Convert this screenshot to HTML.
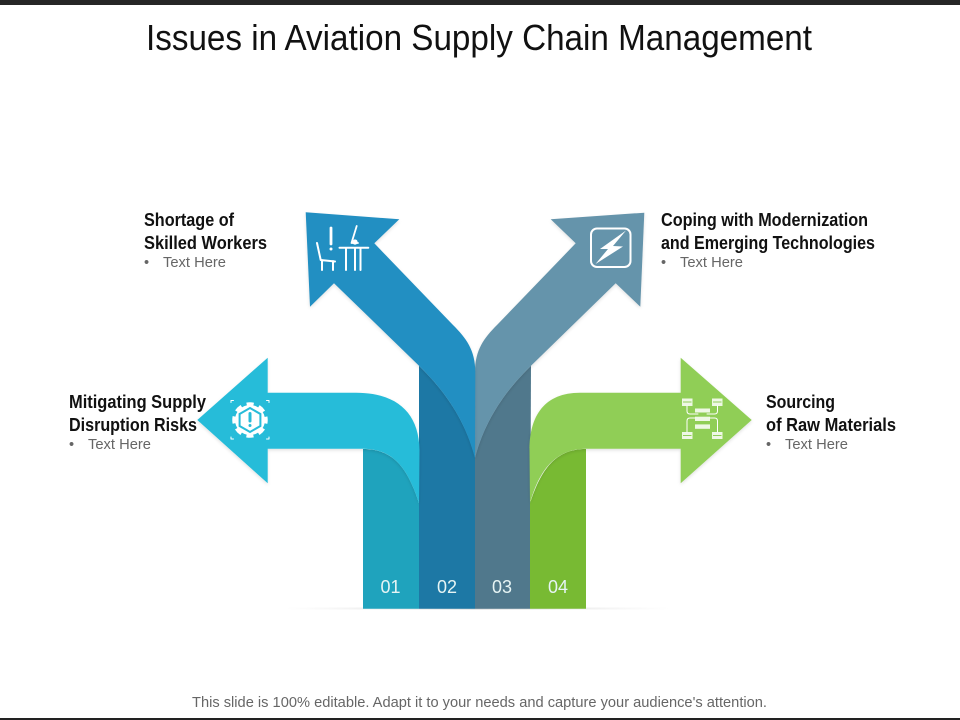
<!DOCTYPE html>
<html lang="en">
<head>
<meta charset="utf-8">
<title>Issues in Aviation Supply Chain Management</title>
<style>
html,body{margin:0;padding:0;background:#fff;}
svg{display:block;}
text{font-family:"Liberation Sans Narrow","Liberation Sans",sans-serif;}
.h{font-size:18px;font-weight:bold;fill:#111;}
.b{font-family:"Liberation Sans",sans-serif;font-size:14.5px;fill:#666;}
.n{font-family:"Liberation Sans",sans-serif;font-size:18px;fill:#e6f4f4;text-anchor:middle;}
.w{fill:none;stroke:#fff;stroke-linecap:round;stroke-linejoin:round;}
</style>
</head>
<body>
<svg width="960" height="720" viewBox="0 0 960 720" xmlns="http://www.w3.org/2000/svg">
<defs>
<linearGradient id="baseGrad" x1="0" x2="1" y1="0" y2="0">
<stop offset="0" stop-color="#e4e4e4" stop-opacity="0"/>
<stop offset="0.5" stop-color="#d0d0d0"/>
<stop offset="1" stop-color="#e4e4e4" stop-opacity="0"/>
</linearGradient>
<filter id="soft" x="-10%" y="-10%" width="120%" height="120%">
<feDropShadow dx="0" dy="1.5" stdDeviation="1.5" flood-color="#000" flood-opacity="0.12"/>
</filter>
</defs>
<rect x="0" y="0" width="960" height="720" fill="#fff"/>
<rect x="0" y="0" width="960" height="5" fill="#262626"/>
<rect x="0" y="718" width="960" height="2" fill="#222"/>

<text x="146" y="50" font-size="36" fill="#111" textLength="666" lengthAdjust="spacingAndGlyphs">Issues in Aviation Supply Chain Management</text>

<rect x="285" y="607.5" width="385" height="2" fill="url(#baseGrad)"/>

<path d="M363 449C395 449 408 470 419 503L419 608.7L363 608.7Z" fill="#1fa3bd"/>
<path d="M419 365.7C445 391 465 420 475 457L475 608.7L419 608.7Z" fill="#1d78a5"/>
<path d="M531 365.7C505 391 485 420 475 457L475 608.7L530 608.7Z" fill="#50788c"/>
<path d="M586 449C555 449 541 470 530 503L530 608.7L586 608.7Z" fill="#78ba33"/>

<path d="M197.3 420L267.7 357.7L267.7 392.7L356 392.7C396 392.7 419 412 419.5 450L419 503C408 470 395 449 363 448.7L267.7 448.7L267.7 483.3Z" fill="#27bcd9" filter="url(#soft)"/>
<path d="M644.3 212.7L550.7 219.3L575.7 243.3L497 325C484 338 475 350 475 372L475 458C485 420 505 391 531 365.7L615.7 283.3L640.3 306.7Z" fill="#6594ab" filter="url(#soft)"/>
<path d="M305.7 212.3L399.3 219.3L374.3 243.3L453 325C466 338 475.3 350 475.3 372L475 458C465 420 445 391 419 365.7L334 283.3L310 306.7Z" fill="#248fc2" filter="url(#soft)"/>
<path d="M751.7 420L680.7 357.7L680.7 392.7L580 392.7C545 392.7 529.5 415 529.5 450L530 503C538 475 552 449 586 448.7L680.7 448.7L680.7 483.3Z" fill="#90ce57" filter="url(#soft)"/>

<text class="n" x="390.5" y="593">01</text>
<text class="n" x="447" y="593">02</text>
<text class="n" x="502" y="593">03</text>
<text class="n" x="558" y="593">04</text>

<g>
<path class="w" stroke-width="2" d="M317 243L320.7 260L335 261.5M322 260L322 270M333 261L333 270"/>
<path class="w" stroke-width="2.8" d="M331 228L331 244"/>
<circle cx="331" cy="249" r="1.5" fill="#fff"/>
<path class="w" stroke-width="2" d="M339.5 247.7L368.3 247.7M346 248L346 270M355 248L355 270M360.5 248L360.5 270"/>
<path class="w" stroke-width="1.8" d="M356.7 226L351.5 243L358 243"/>
<circle cx="355" cy="242" r="2.6" fill="#fff"/>
</g>

<g>
<circle cx="250" cy="420" r="15" fill="#fff"/>
<circle cx="250" cy="420" r="16" fill="none" stroke="#fff" stroke-width="3.5" stroke-dasharray="7 5.57" stroke-dashoffset="3.5"/>
<path d="M250 408L260.4 414V426L250 432L239.6 426V414Z" fill="#fff" stroke="#27bcd9" stroke-width="2"/>
<path d="M250 413.5L250 421" stroke="#27bcd9" stroke-width="3" stroke-linecap="round"/>
<circle cx="250" cy="425.5" r="1.5" fill="#27bcd9"/>
<path class="w" stroke-width="1" d="M231 402.5V400.5H233.5M266.5 400.5H269V402.5M231 437V439H233.5M266.5 439H269V437"/>
</g>

<g>
<rect x="591" y="228.5" width="39.5" height="38.5" rx="6" class="w" stroke-width="2"/>
<path d="M626 230.5L600 249L608 249L595.5 264L623 246.5L613 246Z" fill="#fff"/>
</g>

<g>
<g fill="#eef8e4">
<rect x="682" y="398.5" width="10.5" height="7.5"/>
<rect x="712" y="398.5" width="10.5" height="7.5"/>
<rect x="682" y="432" width="10.5" height="7"/>
<rect x="712" y="432" width="10.5" height="7"/>
<rect x="695" y="408.5" width="15" height="4"/>
<rect x="695" y="416.7" width="15" height="4.3"/>
<rect x="695" y="424.4" width="15" height="4.4"/>
</g>
<path d="M683 402H691.5M713 402H721.5M683 435.5H691.5M713 435.5H721.5" stroke="#90ce57" stroke-width="1"/>
<path class="w" stroke-width="1" d="M687 406V411Q687 414 690 414H698M717.5 406V411Q717.5 414 714.5 414H707M687 432V421Q687 418 690 418H695M717.5 432V421Q717.5 418 714.5 418H710"/>
</g>

<g>
<text class="h" x="69" y="408" textLength="137" lengthAdjust="spacingAndGlyphs">Mitigating Supply</text>
<text class="h" x="69" y="431" textLength="128" lengthAdjust="spacingAndGlyphs">Disruption Risks</text>
<text class="b" x="69" y="449">•</text>
<text class="b" x="88" y="449" textLength="63" lengthAdjust="spacingAndGlyphs">Text Here</text>
</g>
<g>
<text class="h" x="144" y="226" textLength="90" lengthAdjust="spacingAndGlyphs">Shortage of</text>
<text class="h" x="144" y="249" textLength="123" lengthAdjust="spacingAndGlyphs">Skilled Workers</text>
<text class="b" x="144" y="267">•</text>
<text class="b" x="163" y="267" textLength="63" lengthAdjust="spacingAndGlyphs">Text Here</text>
</g>
<g>
<text class="h" x="661" y="226" textLength="207" lengthAdjust="spacingAndGlyphs">Coping with Modernization</text>
<text class="h" x="661" y="249" textLength="214" lengthAdjust="spacingAndGlyphs">and Emerging Technologies</text>
<text class="b" x="661" y="267">•</text>
<text class="b" x="680" y="267" textLength="63" lengthAdjust="spacingAndGlyphs">Text Here</text>
</g>
<g>
<text class="h" x="766" y="408" textLength="69" lengthAdjust="spacingAndGlyphs">Sourcing</text>
<text class="h" x="766" y="431" textLength="130" lengthAdjust="spacingAndGlyphs">of Raw Materials</text>
<text class="b" x="766" y="449">•</text>
<text class="b" x="785" y="449" textLength="63" lengthAdjust="spacingAndGlyphs">Text Here</text>
</g>

<text class="b" x="192" y="707" textLength="575" lengthAdjust="spacingAndGlyphs">This slide is 100% editable. Adapt it to your needs and capture your audience's attention.</text>
</svg>
</body>
</html>
